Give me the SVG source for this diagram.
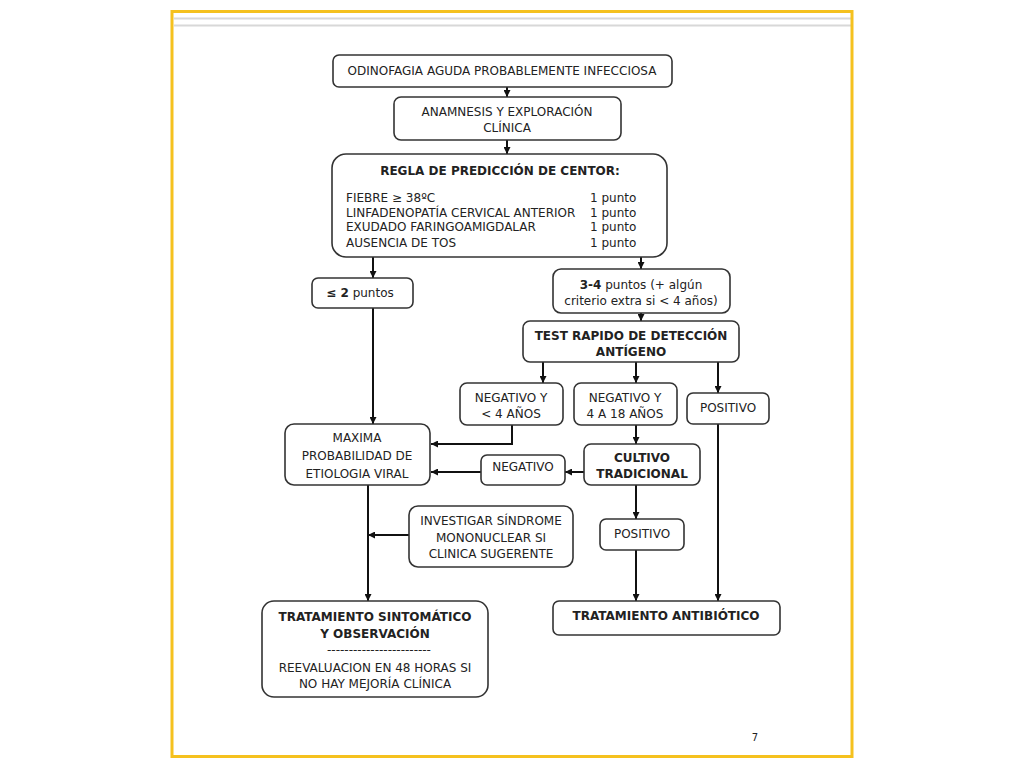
<svg xmlns="http://www.w3.org/2000/svg" width="1024" height="768" viewBox="0 0 1024 768">
<defs>
<marker id="ah" viewBox="0 0 8 8" refX="8" refY="4" markerWidth="7" markerHeight="7" markerUnits="userSpaceOnUse" orient="auto">
<path d="M0,0 L8,4 L0,8 Z" fill="#111"/>
</marker>
<style>
.box{fill:#fff;stroke:#333;stroke-width:1.6}
.t{font-family:"DejaVu Sans",Verdana,sans-serif;font-size:12px;fill:#222;text-anchor:middle}
.l{text-anchor:start}
.b{font-weight:bold}
.c{fill:none;stroke:#111;stroke-width:2;marker-end:url(#ah)}
</style>
</defs>
<rect x="0" y="0" width="1024" height="768" fill="#fff"/>
<g id="frame">
<line x1="174" y1="18.5" x2="851" y2="18.5" stroke="#d8d8d8" stroke-width="2"/>
<line x1="174" y1="25.5" x2="851" y2="25.5" stroke="#d8d8d8" stroke-width="2"/>
<rect x="172" y="11.5" width="680" height="745" fill="none" stroke="#F5C11E" stroke-width="3"/>
<text class="t" x="755" y="741" style="font-size:10px">7</text>
</g>
<g id="connectors">
<line class="c" x1="507" y1="87" x2="507" y2="97"/>
<line class="c" x1="507" y1="140" x2="507" y2="154"/>
<line class="c" x1="373" y1="257" x2="373" y2="278"/>
<line class="c" x1="641" y1="257" x2="641" y2="269"/>
<line class="c" x1="641" y1="313" x2="641" y2="321"/>
<line class="c" x1="373" y1="308" x2="373" y2="424"/>
<line class="c" x1="543" y1="362" x2="543" y2="383"/>
<line class="c" x1="636" y1="362" x2="636" y2="383"/>
<line class="c" x1="718" y1="362" x2="718" y2="393"/>
<polyline class="c" points="512,425 512,444 431,444"/>
<line class="c" x1="636" y1="425" x2="636" y2="444"/>
<line class="c" x1="584" y1="472" x2="565" y2="472"/>
<line class="c" x1="481" y1="472" x2="431" y2="472"/>
<line class="c" x1="368" y1="485" x2="368" y2="601"/>
<line class="c" x1="409" y1="535" x2="368" y2="535"/>
<line class="c" x1="636" y1="485" x2="636" y2="519"/>
<line class="c" x1="636" y1="550" x2="636" y2="601"/>
<line class="c" x1="718" y1="424" x2="718" y2="601"/>
</g>
<g id="n1">
<rect class="box" x="333" y="55" width="339" height="32" rx="6"/>
<text class="t" x="502" y="75">ODINOFAGIA AGUDA PROBABLEMENTE INFECCIOSA</text>
</g>
<g id="n2">
<rect class="box" x="394" y="97" width="227" height="43" rx="7"/>
<text class="t" x="507" y="116">ANAMNESIS Y EXPLORACIÓN</text>
<text class="t" x="507" y="132">CLÍNICA</text>
</g>
<g id="n3">
<rect class="box" x="332" y="154" width="335" height="103" rx="14"/>
<text class="t b" x="500" y="175">REGLA DE PREDICCIÓN DE CENTOR:</text>
<text class="t l" x="346" y="202">FIEBRE ≥ 38ºC</text>
<text class="t l" x="346" y="217">LINFADENOPATÍA CERVICAL ANTERIOR</text>
<text class="t l" x="346" y="231">EXUDADO FARINGOAMIGDALAR</text>
<text class="t l" x="346" y="247">AUSENCIA DE TOS</text>
<text class="t l" x="590" y="202">1 punto</text>
<text class="t l" x="590" y="217">1 punto</text>
<text class="t l" x="590" y="231">1 punto</text>
<text class="t l" x="590" y="247">1 punto</text>
</g>
<g id="n4">
<rect class="box" x="312" y="278" width="101" height="30" rx="6"/>
<text class="t" x="360" y="297"><tspan class="b">≤ 2</tspan> puntos</text>
</g>
<g id="n5">
<rect class="box" x="553" y="269" width="177" height="44" rx="8"/>
<text class="t" x="641" y="289"><tspan class="b">3-4</tspan> puntos (+ algún</text>
<text class="t" x="641" y="305">criterio extra si &lt; 4 años)</text>
</g>
<g id="n6">
<rect class="box" x="523" y="321" width="216" height="41" rx="7"/>
<text class="t b" x="631" y="340">TEST RAPIDO DE DETECCIÓN</text>
<text class="t b" x="631" y="356">ANTÍGENO</text>
</g>
<g id="n7">
<rect class="box" x="460" y="383" width="103" height="42" rx="7"/>
<text class="t" x="511" y="402">NEGATIVO Y</text>
<text class="t" x="511" y="418">&lt; 4 AÑOS</text>
</g>
<g id="n8">
<rect class="box" x="574" y="383" width="103" height="42" rx="7"/>
<text class="t" x="625" y="402">NEGATIVO Y</text>
<text class="t" x="625" y="418">4 A 18 AÑOS</text>
</g>
<g id="n9">
<rect class="box" x="687" y="393" width="82" height="31" rx="6"/>
<text class="t" x="728" y="412">POSITIVO</text>
</g>
<g id="n10">
<rect class="box" x="285" y="424" width="145" height="61" rx="9"/>
<text class="t" x="357" y="442">MAXIMA</text>
<text class="t" x="357" y="460">PROBABILIDAD DE</text>
<text class="t" x="357" y="478">ETIOLOGIA VIRAL</text>
</g>
<g id="n11">
<rect class="box" x="584" y="444" width="116" height="41" rx="7"/>
<text class="t b" x="642" y="462">CULTIVO</text>
<text class="t b" x="642" y="478">TRADICIONAL</text>
</g>
<g id="n12">
<rect class="box" x="481" y="455" width="84" height="30" rx="6"/>
<text class="t" x="523" y="471">NEGATIVO</text>
</g>
<g id="n13">
<rect class="box" x="409" y="506" width="164" height="61" rx="9"/>
<text class="t" x="491" y="525">INVESTIGAR SÍNDROME</text>
<text class="t" x="491" y="542">MONONUCLEAR SI</text>
<text class="t" x="491" y="558">CLINICA SUGERENTE</text>
</g>
<g id="n14">
<rect class="box" x="600" y="519" width="84" height="31" rx="6"/>
<text class="t" x="642" y="538">POSITIVO</text>
</g>
<g id="n15">
<rect class="box" x="262" y="601" width="226" height="96" rx="12"/>
<text class="t b" x="375" y="621">TRATAMIENTO SINTOMÁTICO</text>
<text class="t b" x="375" y="638">Y OBSERVACIÓN</text>
<text class="t" x="379" y="654">------------------------</text>
<text class="t" x="375" y="672">REEVALUACION EN 48 HORAS SI</text>
<text class="t" x="375" y="688">NO HAY MEJORÍA CLÍNICA</text>
</g>
<g id="n16">
<rect class="box" x="553" y="601" width="227" height="34" rx="6"/>
<text class="t b" x="666" y="620">TRATAMIENTO ANTIBIÓTICO</text>
</g>
</svg>
